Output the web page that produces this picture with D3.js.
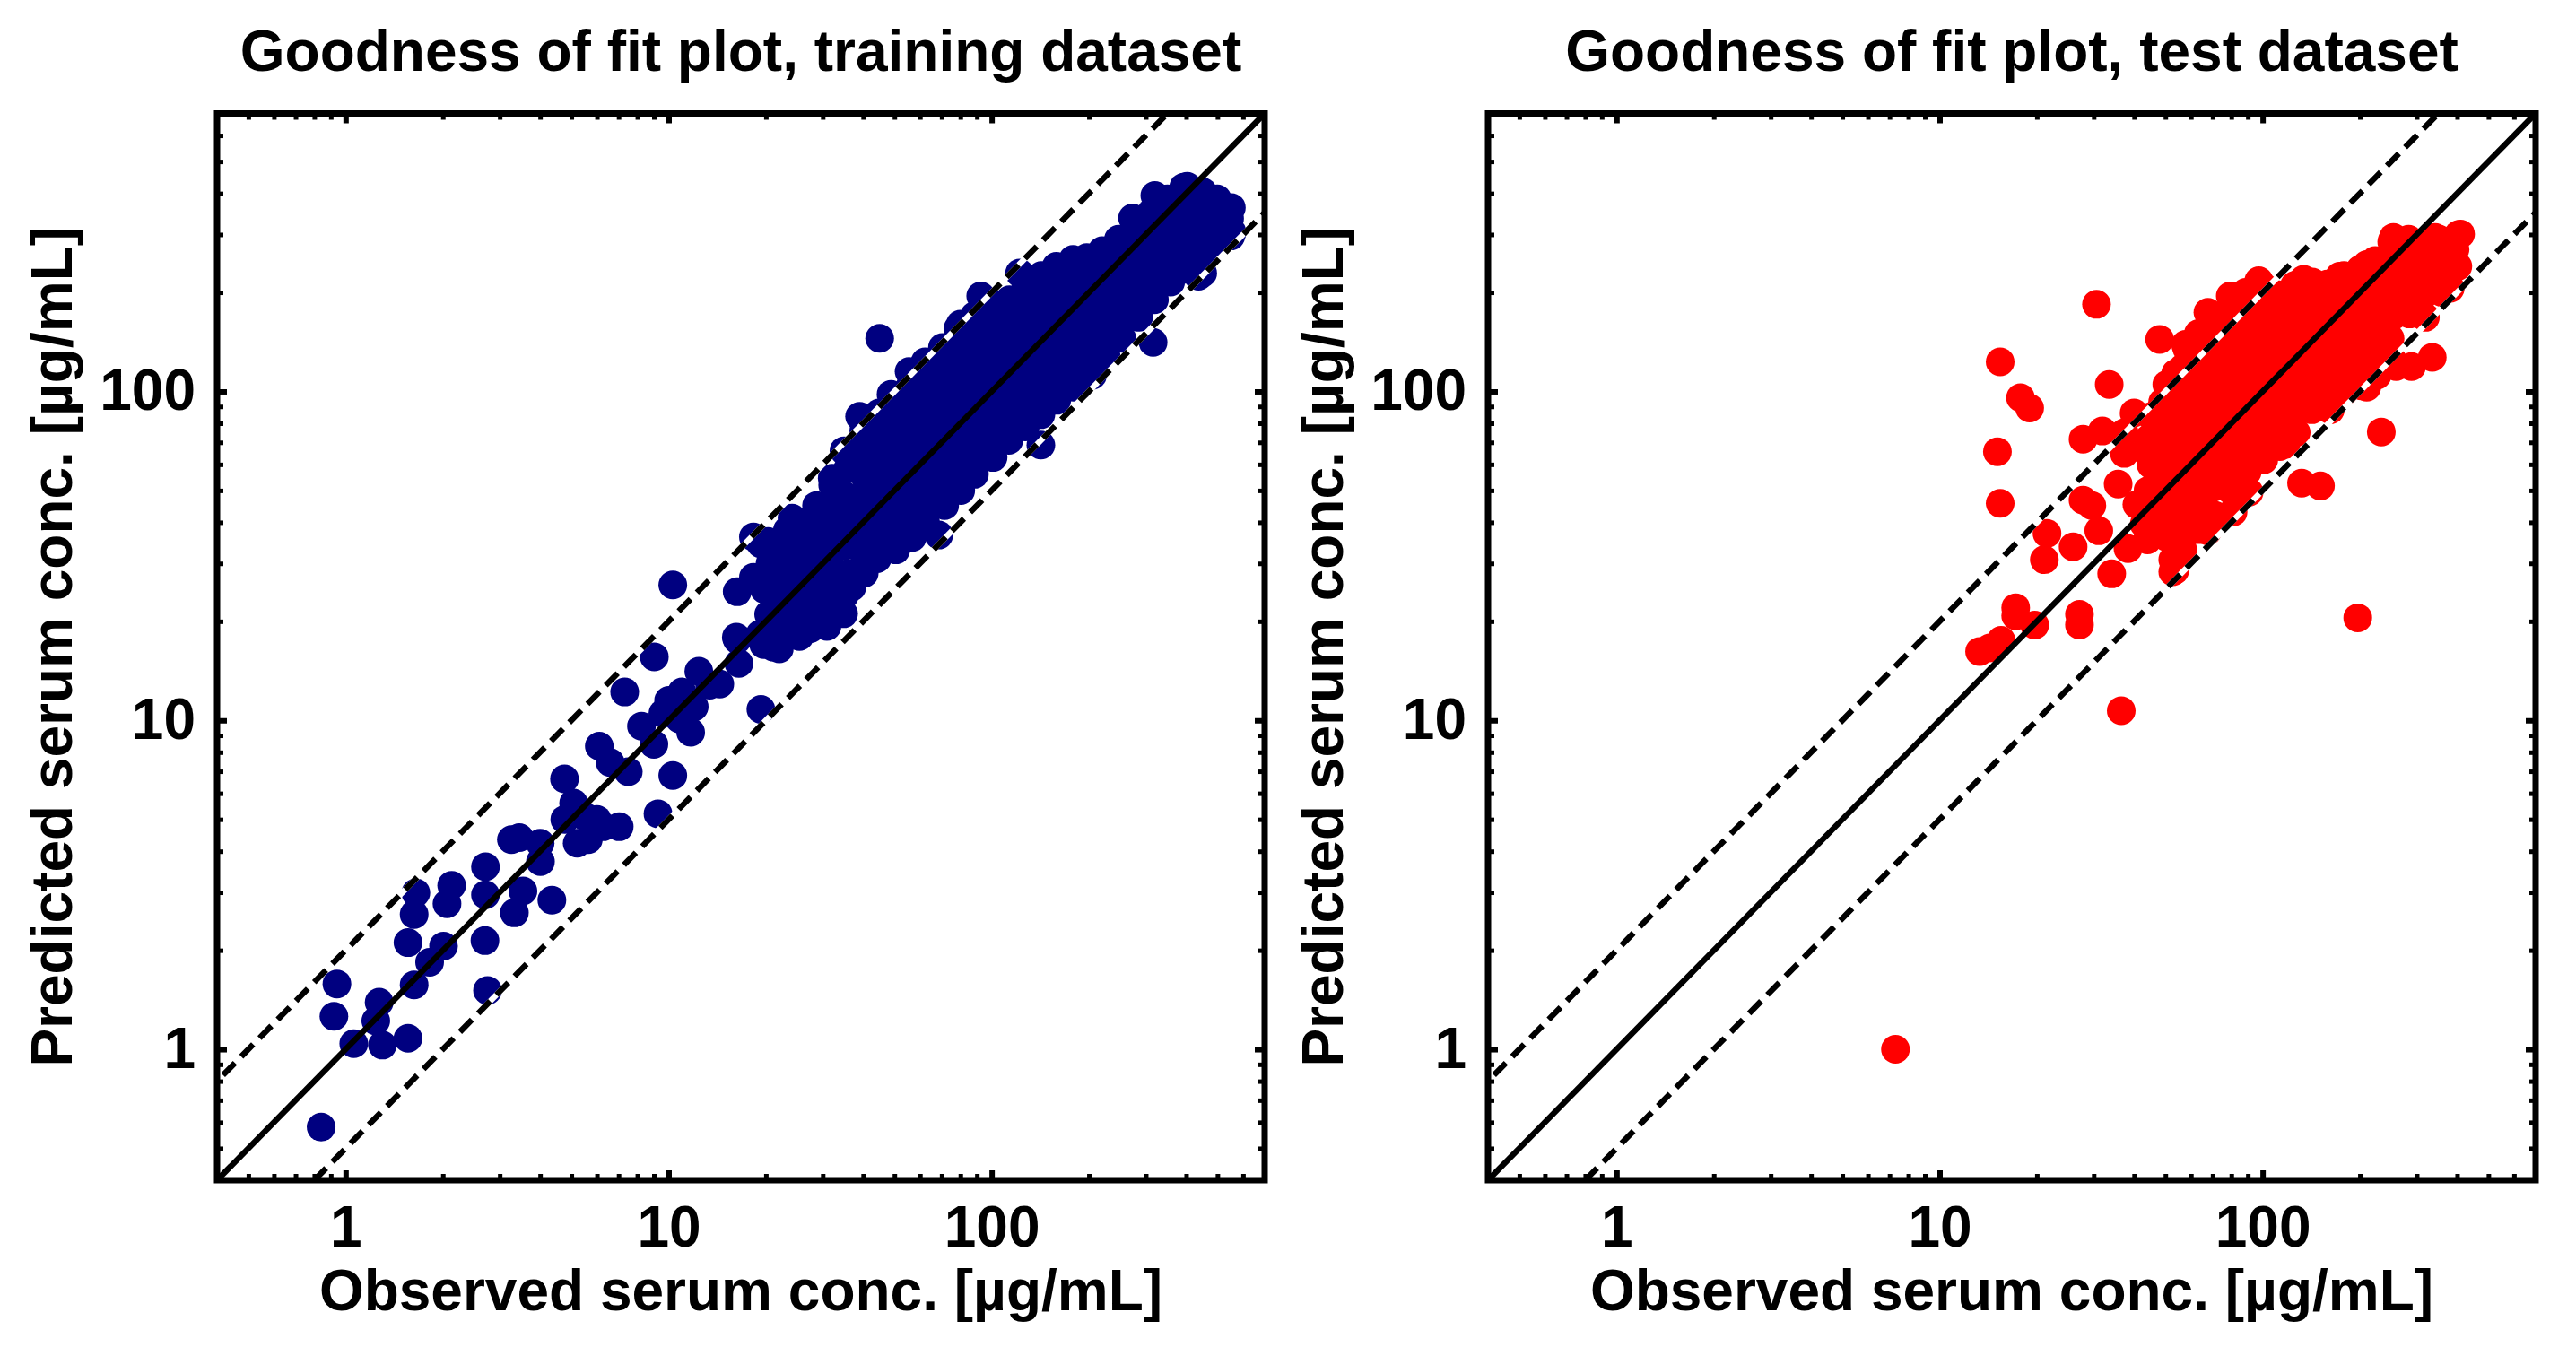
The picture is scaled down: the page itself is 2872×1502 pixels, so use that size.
<!DOCTYPE html>
<html>
<head>
<meta charset="utf-8">
<script src="https://cdn.jsdelivr.net/npm/d3@7"></script>
<style>
 body{margin:0;background:#fff;}
 svg{display:block;}
</style>
</head>
<body>
<svg id="svg" width="2872" height="1502"></svg>
<script>

// observed / predicted pairs
var trainData=[
 [0.84,0.58],[0.94,1.58],[0.92,1.26],[1.06,1.04],[1.27,1.39],[1.24,1.22],[1.30,1.03],[1.56,1.08],
 [1.63,1.57],[2.75,1.51],[1.82,1.84],[2.01,2.06],[1.56,2.11],[1.63,2.57],[1.65,2.99],[2.06,2.77],
 [2.13,3.15],[2.70,2.14],[2.71,2.95],[2.71,3.59],[3.33,2.60],[3.54,3.03],[4.35,2.84],[3.26,4.34],
 [3.45,4.40],[4.01,3.72],[4.00,4.23],[4.77,5.00],[5.08,5.60],[5.21,4.23],[5.64,4.34],[6.27,4.75],
 [7.03,4.75],[5.50,5.10],[6.00,5.00],[4.76,6.64],[6.10,8.35],[6.59,7.45],[7.50,6.98],[7.31,12.2],
 [9.03,15.6],[9.27,5.20],[10.3,6.80],[8.24,9.60],[10.0,11.5],[11.7,9.20],[9.00,8.46],[10.8,10.1],
 [9.60,10.5],[11.0,12.2],[12.0,11.0],[12.4,14.1],[14.4,12.9],[16.5,14.9],[16.2,17.9],[19.7,17.0],
 [19.3,10.8],[13.4,12.8],[10.3,25.8],
 [18.3,36.1],[19.3,34.4],[18.3,27.2],[16.3,24.6],[16.3,17.6],[21.1,16.7],[20.3,35.0],[21.6,32.4],
 [24.1,41.2],[23.3,37.8],[25.6,35.1],[19.2,18.3],[25.8,19.4],[27.5,19.0],[26.3,19.7],[30.9,19.3],
 [33.8,21.7],[34.8,21.1],[36.9,25.4],[32.7,24.7],[31.3,27.9],[32.1,54.5],[42.8,31.8],[52.7,36.0],
 [19.6,17.5],[20.4,21.0],[19.8,25.0],[20.6,30.0],
 [22.0,16.5],[22.8,19.5],[22.2,23.0],[22.6,27.0],[22.1,32.0],
 [25.4,18.0],[24.8,21.0],[25.3,25.0],[24.9,29.0],[25.5,34.0],[25.0,40.0],
 [28.0,20.0],[28.6,23.5],[27.8,27.5],[28.4,32.0],[28.1,38.0],[28.7,45.0],
 [31.2,22.0],[32.0,26.0],[31.5,30.0],[31.9,36.0],[31.3,43.0],[32.2,52.0],
 [35.0,24.0],[35.9,28.0],[35.2,34.0],[36.0,40.0],[35.4,48.0],[35.8,58.0],[34.9,66.0],
 [40.3,28],[39.5,33],[40.1,39],[39.2,46],[40.6,55],[39.6,66],[40.2,76],
 [44.2,31],[45.3,37],[44.6,44],[45.0,52],[44.0,62],[45.5,74],[44.8,86],
 [50.5,33],[49.6,40],[50.9,48],[49.8,57],[50.4,68],[51.0,81],[49.5,95],
 [56.8,36],[55.7,43],[56.4,52],[57.1,61],[55.6,73],[56.9,87],[56.0,104],
 [62.4,40],[63.8,48],[62.8,57],[63.5,68],[62.5,80],[64.0,96],[63.0,115],[62.2,123],
 [71.5,45],[70.2,52],[71.2,62],[70.0,74],[71.8,88],[70.5,104],[71.0,124],[70.4,136],
 [80.2,50],[78.8,59],[80.0,70],[78.5,83],[80.6,99],[79.1,117],[79.8,138],[78.6,155],
 [88.4,56],[90.0,66],[88.7,78],[89.8,93],[88.2,110],[90.3,130],[89.0,155],[88.5,170],
 [101,63],[99,74],[102,88],[98.5,104],[100.5,123],[99.3,146],[101.5,172],[99.8,185],
 [113,71],[111,84],[114,99],[110.5,117],[112.5,138],[111.5,163],[113.5,190],
 [127,78],[124.5,93],[128,110],[125,130],[126.5,154],[124,180],[127.5,205],
 [142,85],[139.5,101],[143,120],[140.5,142],[141.5,168],[139,198],[142.5,225],
 [159,94],[156,112],[160,133],[157,157],[159.5,185],[155.5,215],[158.5,240],
 [179,103],[176,123],[180,146],[177,172],[179.5,202],[175.5,235],[178.5,252],
 [202,115],[198,137],[203,162],[199,190],[201,222],[197,255],
 [226,128],[221,152],[227,180],[222,210],[225,245],[220,268],
 [253,145],[248,170],[254,200],[249,232],[252,265],[247,290],
 [285,168],[279,195],[286,225],[280,258],[284,290],[278,318],
 [319,190],[313,218],[320,250],[314,285],[318,320],[312,350],
 [358,215],[351,245],[360,280],[352,315],[357,355],[350,385],
 [402,235],[394,270],[404,305],[396,345],[400,385],[393,418],
 [451,265],[443,300],[452,335],[445,375],[449,405],
 [505,285],[497,315],[507,350],[499,385],
 [555,305],[545,335],[552,362],
 [68.6,36.6],[78.9,51.8],[142,68.7],[316,141],[45.0,145],[39.0,84],[48.8,98],[55.5,115],
 [80.0,160],[92.5,195],[122,229],[437,224],[550,297],[525,355],[403,420],[320,394],[273,337],
 [205,112],[185,103.5],[287,187],[450,229]
];

// observed / predicted pairs
var testData=[
 [7.3,1.0],[36.5,10.7],[197,20.5],[30.6,184],[15.4,123],[17.8,95.7],[19.0,89],[15.1,65.6],[15.4,45.7],
 [33.5,105],[40.0,86],[48.0,144],[13.3,16.2],[14.3,16.6],[15.5,17.5],[17.2,20.8],[17.2,22.0],[19.7,19.5],
 [27.1,21.0],[27.1,19.5],[21.5,37.0],[25.9,33.7],[21.1,30.8],[34.1,27.9],[38.3,33.3],[27.8,71.6],
 [31.9,75.8],[37.3,74.9],[27.8,46.7],[29.6,45.0],[35.7,52.3],[31.1,37.7],[37.3,64.8],[40.8,45.3],
 [43.0,39.5],[43.4,66.0],[45.8,59.3],[47.0,69.5],[49.0,92.7],[53.8,113.5],[57.7,139],[53.8,45.3],
 [53.8,36.0],[52.7,30.8],[52.7,28.3],[53.5,28.6],[55.8,40.0],[66.3,42.8],[44.0,35.4],[47.0,41.3],
 [67.6,37.7],[81.0,43.0],[90.8,49.4],
 [58.3,135],[67.7,174],[80.3,189],[97.3,217],[79.4,195],[134,219],[173,224],[210,243],[254,294],
 [342,294],[410,301],[388,238],[381,206],
 [335,127],[289,119],[259,119],[233,75.3],[210,103],[162,88],[151,51.6],[132,52.6],[118,69],
 [103,81.8],[95.0,65],[82.0,55],[82.0,67.6],
 [44.2,50],[45.1,60],[44.5,72],[45.3,84],
 [50.6,36],[49.7,44],[50.3,53],[49.4,63],[50.8,76],[49.9,90],[50.5,105],
 [56.6,33],[55.8,40],[56.9,48],[55.5,58],[56.3,70],[57.0,84],[55.9,100],[56.7,118],
 [63.4,38],[62.6,46],[63.9,55],[62.3,66],[63.6,79],[62.8,94],[64.1,112],[62.9,132],[63.3,150],
 [71.3,42],[70.1,51],[71.6,61],[70.3,73],[71.1,87],[70.6,104],[71.9,122],[70.2,143],[71.4,162],
 [79.9,50],[78.7,59],[80.4,70],[79.0,83],[80.1,98],[78.9,116],[80.5,136],[79.3,158],
 [89.6,57],[88.3,67],[90.1,79],[88.8,93],[89.4,109],[88.1,128],[90.4,150],[89.2,174],[88.6,200],
 [100.8,62],[99.2,73],[101.6,86],[98.9,101],[100.3,118],[99.6,138],[101.2,160],[99.1,185],[100.6,208],
 [113,68],[111,80],[114,94],[110.5,110],[112.5,128],[111.5,149],[113.5,172],[110.8,197],
 [127,75],[124.5,88],[128,103],[125,120],[126.5,140],[124,162],[127.5,186],[125.5,210],
 [142,88],[139.5,104],[143,122],[140.5,142],[141.5,165],[139,190],[142.5,215],
 [159,95],[156,110],[160,128],[157,148],[159.5,170],[155.5,195],[158.5,212],
 [179,100],[176,118],[180,138],[177,160],[179.5,185],[175.5,205],[178.5,225],
 [202,104],[198,122],[203,142],[199,165],[201,190],[197,215],[200.5,235],
 [226,112],[221,132],[227,155],[222,180],[225,205],[220,232],[223,250],
 [253,124],[248,145],[254,170],[249,196],[252,222],[247,255],[251,285],
 [285,172],[279,200],[286,230],[280,262],[283,290],
 [319,168],[313,195],[320,225],[314,255],[318,285],
 [358,200],[351,230],[360,260],[352,290],
 [402,240],[394,270],[404,300]
];

var axisRange=[0.4,700];
var majorTicks=[1,10,100];
var foldLines=[1,2,0.5];          // identity and 2-fold limits
var titles=["Goodness of fit plot, training dataset","Goodness of fit plot, test dataset"];
var xLabel="Observed serum conc. [\u00b5g/mL]";
var yLabel="Predicted serum conc. [\u00b5g/mL]";
var colors=["#000080","#ff0000"];

var svg=d3.select("#svg");
var font="'Liberation Sans', Arial, Helvetica, sans-serif";

var plot={top:126.5, width:1168, height:1189.5};
var panelLeft=[242,1659];

var xScale=d3.scaleLog().domain(axisRange).range([0,plot.width]);
var yScale=d3.scaleLog().domain(axisRange).range([plot.height,0]);

var minorTicks=xScale.ticks().filter(function(d){
	return majorTicks.indexOf(d)<0 && d>axisRange[0]*1.001 && d<axisRange[1]*0.999;
});

var line=d3.line()
	.x(function(d){return xScale(d[0]);})
	.y(function(d){return yScale(d[1]);});

function styleAxis(g,w){
	g.select(".domain").remove();
	g.selectAll("line").attr("stroke","#000").attr("stroke-width",w);
	g.selectAll("text")
		.attr("fill","#000")
		.attr("font-family",font)
		.attr("font-weight","bold")
		.attr("font-size",64);
}

function drawPanel(i,data){
	var left=panelLeft[i];
	var g=svg.append("g").attr("transform","translate("+left+","+plot.top+")");

	g.append("clipPath").attr("id","clip"+i)
		.append("rect").attr("width",plot.width).attr("height",plot.height);

	// points
	g.append("g").selectAll("circle").data(data).enter()
		.append("circle")
		.attr("cx",function(d){return xScale(d[0]);})
		.attr("cy",function(d){return yScale(d[1]);})
		.attr("r",16)
		.attr("fill",colors[i]);

	// identity and fold lines
	var lines=g.append("g").attr("clip-path","url(#clip"+i+")");
	foldLines.forEach(function(f){
		var pts=[[axisRange[0]/4,axisRange[0]/4*f],[axisRange[1]*4,axisRange[1]*4*f]];
		if(f!==1){
			lines.append("path").attr("d",line(pts))
				.attr("fill","none").attr("stroke","#fff").attr("stroke-width",6.5);
		}
		lines.append("path").attr("d",line(pts))
			.attr("fill","none").attr("stroke","#000").attr("stroke-width",6.5)
			.attr("stroke-dasharray",f===1?null:"19,10");
	});

	// ticks, inward on all four sides
	g.append("g").attr("transform","translate(0,"+plot.height+")")
		.call(d3.axisBottom(xScale).tickValues(majorTicks).tickSize(-11).tickPadding(29).tickFormat(d3.format("d")))
		.call(styleAxis,6);
	g.append("g").attr("transform","translate(0,"+plot.height+")")
		.call(d3.axisBottom(xScale).tickValues(minorTicks).tickSize(-7).tickFormat(""))
		.call(styleAxis,5);
	g.append("g")
		.call(d3.axisTop(xScale).tickValues(majorTicks).tickSize(-11).tickFormat(""))
		.call(styleAxis,6);
	g.append("g")
		.call(d3.axisTop(xScale).tickValues(minorTicks).tickSize(-7).tickFormat(""))
		.call(styleAxis,5);
	g.append("g")
		.call(d3.axisLeft(yScale).tickValues(majorTicks).tickSize(-11).tickPadding(24).tickFormat(d3.format("d")))
		.call(styleAxis,6);
	g.append("g")
		.call(d3.axisLeft(yScale).tickValues(minorTicks).tickSize(-7).tickFormat(""))
		.call(styleAxis,5);
	g.append("g").attr("transform","translate("+plot.width+",0)")
		.call(d3.axisRight(yScale).tickValues(majorTicks).tickSize(-11).tickFormat(""))
		.call(styleAxis,6);
	g.append("g").attr("transform","translate("+plot.width+",0)")
		.call(d3.axisRight(yScale).tickValues(minorTicks).tickSize(-7).tickFormat(""))
		.call(styleAxis,5);

	// box
	g.append("rect")
		.attr("width",plot.width).attr("height",plot.height)
		.attr("fill","none").attr("stroke","#000").attr("stroke-width",7);

	// texts
	g.append("text")
		.attr("x",plot.width/2).attr("y",79-plot.top)
		.attr("text-anchor","middle")
		.attr("font-family",font).attr("font-weight","bold").attr("font-size",64)
		.text(titles[i]);
	g.append("text")
		.attr("x",plot.width/2).attr("y",1461-plot.top)
		.attr("text-anchor","middle")
		.attr("font-family",font).attr("font-weight","bold").attr("font-size",64)
		.text(xLabel);
	g.append("text")
		.attr("transform","translate(-162,"+(plot.height/2)+") rotate(-90)")
		.attr("text-anchor","middle")
		.attr("font-family",font).attr("font-weight","bold").attr("font-size",64)
		.text(yLabel);
}

drawPanel(0,trainData);
drawPanel(1,testData);

</script>
</body>
</html>
